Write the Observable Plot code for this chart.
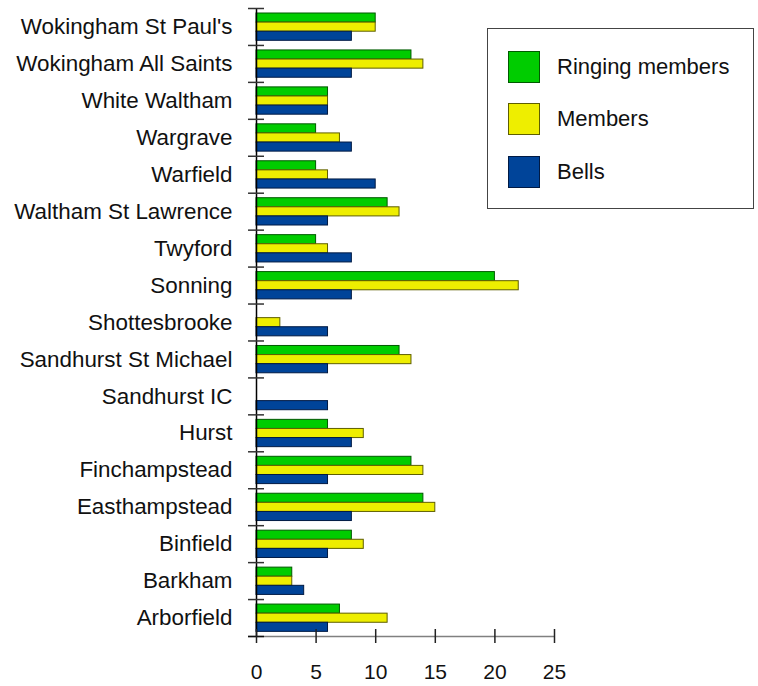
<!DOCTYPE html>
<html><head><meta charset="utf-8">
<script src="https://cdn.jsdelivr.net/npm/d3@7"></script>
<script src="https://cdn.jsdelivr.net/npm/@observablehq/plot@0.6"></script>
<style>
body{margin:0;background:#fff;font-family:"Liberation Sans",Arial,Helvetica,sans-serif;}
#wrap{position:relative;width:758px;height:686px;}
#chart svg{display:block;}
#legend{position:absolute;left:487px;top:28px;width:267px;height:181px;border:1px solid #444;box-sizing:border-box;background:#fff;}
.row{position:absolute;left:20px;height:32px;display:flex;align-items:center;}
.sw{width:32px;height:32px;box-sizing:border-box;border:1px solid;}
.lb{margin-left:17px;font-size:22px;color:#111;}
</style></head>
<body><div id="wrap"><div id="chart"></div><div id="legend"></div></div>
<script>
const categories = ["Wokingham St Paul's","Wokingham All Saints","White Waltham","Wargrave","Warfield","Waltham St Lawrence","Twyford","Sonning","Shottesbrooke","Sandhurst St Michael","Sandhurst IC","Hurst","Finchampstead","Easthampstead","Binfield","Barkham","Arborfield"];
const ringingMembers = [10,13,6,5,5,11,5,20,0,12,0,6,13,14,8,3,7];
const members        = [10,14,6,7,6,12,6,22,2,13,0,9,14,15,9,3,11];
const bells          = [8,8,6,8,10,6,8,8,6,6,6,8,6,8,6,4,6];
const seriesNames = ["Ringing members","Members","Bells"];
const seriesFill = ["#00cc00","#eeee00","#004499"];
const seriesStroke = ["#005a00","#5e5e00","#001a44"];
const xTicks = [0,5,10,15,20,25];

const rows = categories.map((c,i)=>({category:c, v0:ringingMembers[i], v1:members[i], v2:bells[i]}));

const W=758,H=686,mT=8,mB=50,mL=256,mR=204;
const bw=(H-mT-mB)/categories.length;
const barH=9.1, off0=5;
const last=categories[categories.length-1];

const barMarks = seriesNames.map((s,k)=>Plot.barX(rows,{
  filter:d=>d["v"+k]>0, x:"v"+k, y:"category",
  fill:seriesFill[k], stroke:seriesStroke[k], strokeWidth:1,
  insetTop:off0+k*barH, insetBottom:bw-off0-(k+1)*barH
}));

const chart = Plot.plot({
  width:W,height:H,marginTop:mT,marginBottom:mB,marginLeft:mL,marginRight:mR,
  style:{fontFamily:'"Liberation Sans", Arial, Helvetica, sans-serif',fontSize:"22px",background:"white",color:"#111"},
  x:{domain:[0,25],label:null},
  y:{domain:categories,padding:0,round:false,label:null},
  marks:[
    ...barMarks,
    Plot.ruleY([last],{y:d=>d,x1:-0.67,x2:25,dy:bw/2,stroke:"#808080",strokeWidth:1.5}),
    Plot.ruleX([0],{stroke:"#000",strokeWidth:1.5}),
    Plot.ruleY(categories,{y:d=>d,x1:-0.67,x2:0.67,dy:-bw/2,stroke:"#333",strokeWidth:1.5}),
    Plot.ruleY([last],{y:d=>d,x1:-0.67,x2:0.67,dy:bw/2,stroke:"#111",strokeWidth:1.5}),
    Plot.tickX(xTicks,{x:d=>d,y:()=>last,insetTop:bw-7,insetBottom:-7,stroke:"#222",strokeWidth:1.5}),
    Plot.axisX({ticks:xTicks,tickSize:0,tickPadding:28,fontSize:21,tickFormat:d=>String(d),label:null}),
    Plot.axisY({tickSize:0,tickPadding:24,fontSize:22.4,label:null})
  ]
});
document.getElementById("chart").appendChild(chart);

const legend=document.getElementById("legend");
const tops=[22,74,127];
seriesNames.forEach((s,k)=>{
  const r=document.createElement("div");r.className="row";r.style.top=tops[k]+"px";
  const sw=document.createElement("div");sw.className="sw";sw.style.background=seriesFill[k];sw.style.borderColor=seriesStroke[k];
  const lb=document.createElement("span");lb.className="lb";lb.textContent=s;
  r.appendChild(sw);r.appendChild(lb);legend.appendChild(r);
});
</script></body></html>
